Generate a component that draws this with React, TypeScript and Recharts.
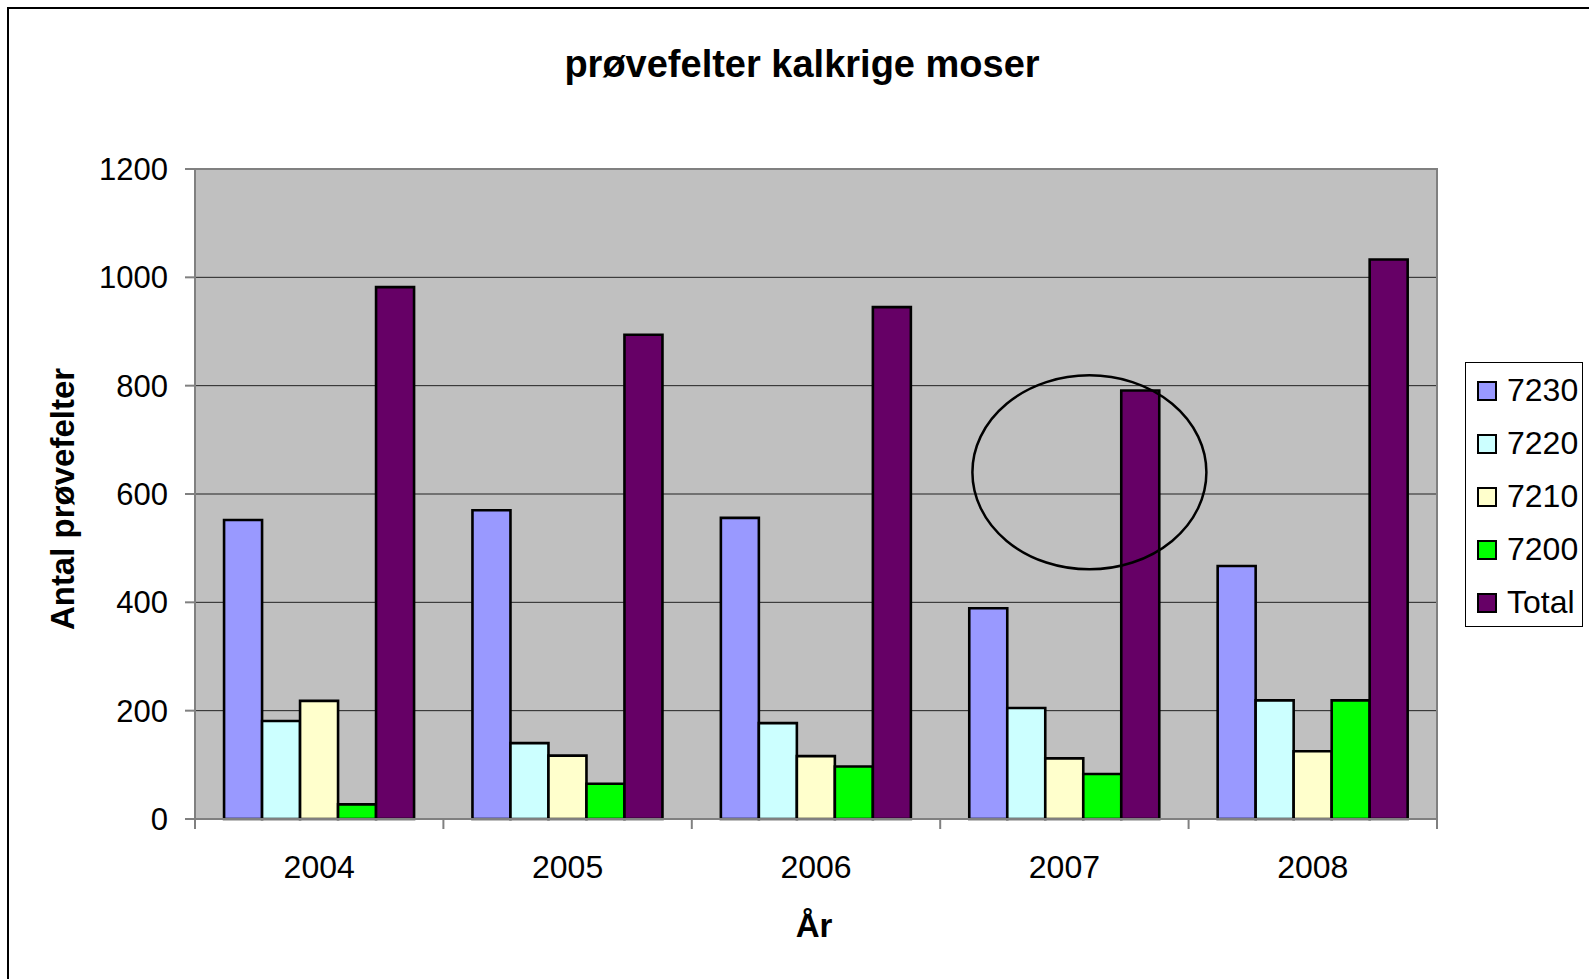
import React from 'react';
import {
  BarChart,
  Bar,
  XAxis,
  YAxis,
  CartesianGrid,
  Legend,
  ReferenceArea,
  ReferenceDot,
} from 'recharts';

const years = ['2004', '2005', '2006', '2007', '2008'];
const s7230 = [552, 570, 556, 389, 467];
const s7220 = [181, 140, 177, 205, 219];
const s7210 = [218, 117, 116, 112, 125];
const s7200 = [27, 65, 97, 83, 219];
const total = [982, 894, 945, 791, 1033];
const yTicks = [0, 200, 400, 600, 800, 1000, 1200];

const series = [
  { key: '7230', color: '#9999FF', values: s7230 },
  { key: '7220', color: '#CCFFFF', values: s7220 },
  { key: '7210', color: '#FFFFCC', values: s7210 },
  { key: '7200', color: '#00FF00', values: s7200 },
  { key: 'Total', color: '#660066', values: total },
];

const data = years.map((year, i) => {
  const row: any = { year };
  series.forEach((s) => (row[s.key] = s.values[i]));
  return row;
});

const FONT = '"Liberation Sans", Arial, sans-serif';

const LegendBox = () => (
  <div
    style={{
      border: '1px solid #000',
      background: '#fff',
      boxSizing: 'border-box',
      width: 118,
      height: 265,
      padding: '1px 0 0 11px',
      fontFamily: FONT,
      fontSize: 32,
    }}
  >
    {series.map((s) => (
      <div key={s.key} style={{ display: 'flex', alignItems: 'center', height: 53 }}>
        <span
          style={{
            display: 'inline-block',
            width: 16,
            height: 16,
            background: s.color,
            border: '2px solid #000',
            marginRight: 10,
          }}
        />
        <span style={{ color: '#000' }}>{s.key}</span>
      </div>
    ))}
  </div>
);

// year label centred in its band, with tick marks on the band edges
const YearTick = (props: any) => {
  const { x, y, payload, index, width, visibleTicksCount } = props;
  const half = width / visibleTicksCount / 2;
  return (
    <g>
      <line x1={x - half} y1={y} x2={x - half} y2={y + 10} stroke="#808080" strokeWidth={2} />
      {index === visibleTicksCount - 1 && (
        <line x1={x + half} y1={y} x2={x + half} y2={y + 10} stroke="#808080" strokeWidth={2} />
      )}
      <text x={x} y={y + 36} dy="0.71em" textAnchor="middle" fontSize={32} fontFamily={FONT} fill="#000">
        {payload.value}
      </text>
    </g>
  );
};

// the hand-drawn circle around 2007 in the original
const Ellipse = (props: any) => (
  <ellipse cx={props.cx + 25} cy={props.cy} rx={117} ry={97} fill="none" stroke="#000" strokeWidth={2.5} />
);

export default function App() {
  return (
    <div
      style={{
        position: 'absolute',
        left: 0,
        top: 0,
        width: 1589,
        height: 979,
        overflow: 'hidden',
        background: '#fff',
        fontFamily: FONT,
      }}
    >
      <div
        style={{
          position: 'absolute',
          left: 7,
          top: 7,
          width: 1600,
          height: 1000,
          borderLeft: '2px solid #000',
          borderTop: '2px solid #000',
        }}
      />
      <div
        style={{
          position: 'absolute',
          left: 0,
          top: 45,
          width: 1604,
          textAlign: 'center',
          fontSize: 38,
          lineHeight: 1,
          fontWeight: 'bold',
          color: '#000',
        }}
      >
        prøvefelter kalkrige moser
      </div>
      <BarChart
        width={1589}
        height={979}
        data={data}
        margin={{ top: 169, right: 152, bottom: 100, left: 105 }}
        barCategoryGap="11.7%"
        barGap={0}
        style={{ position: 'absolute', left: 0, top: 0 }}
      >
        <CartesianGrid vertical={false} stroke="#222" strokeWidth={1} fill="#C0C0C0" fillOpacity={1} />
        <XAxis
          dataKey="year"
          height={60}
          tickLine={false}
          tickSize={0}
          tickMargin={0}
          interval={0}
          axisLine={{ stroke: '#808080', strokeWidth: 2 }}
          tick={<YearTick />}
          label={{
            content: (p: any) => (
              <text
                x={p.viewBox.x + p.viewBox.width / 2 - 2}
                y={937}
                textAnchor="middle"
                fontSize={33}
                fontWeight="bold"
                fontFamily={FONT}
                fill="#000"
              >
                År
              </text>
            ),
          }}
        />
        <YAxis
          width={90}
          domain={[0, 1200]}
          ticks={yTicks}
          interval={0}
          tickSize={10}
          tickMargin={17}
          axisLine={{ stroke: '#808080', strokeWidth: 2 }}
          tickLine={{ stroke: '#808080', strokeWidth: 2 }}
          tick={{ fill: '#000', fontSize: 31, fontFamily: FONT }}
          label={{
            content: (p: any) => {
              const cy = p.viewBox.y + p.viewBox.height / 2 + 5;
              return (
                <text
                  x={74}
                  y={cy}
                  transform={`rotate(-90, 74, ${cy})`}
                  textAnchor="middle"
                  fontSize={33}
                  fontWeight="bold"
                  fontFamily={FONT}
                  fill="#000"
                >
                  Antal prøvefelter
                </text>
              );
            },
          }}
        />
        <ReferenceArea y1={0} y2={1200} fill="none" stroke="#808080" strokeWidth={2} />
        {series.map((s) => (
          <Bar
            key={s.key}
            dataKey={s.key}
            fill={s.color}
            stroke="#000"
            strokeWidth={2.6}
            isAnimationActive={false}
          />
        ))}
        <ReferenceDot x="2007" y={640} r={1} shape={Ellipse} />
        <Legend
          layout="vertical"
          align="center"
          verticalAlign="middle"
          content={() => <LegendBox />}
          wrapperStyle={{ left: 1465, top: 362, width: 118, height: 265 }}
        />
      </BarChart>
    </div>
  );
}
